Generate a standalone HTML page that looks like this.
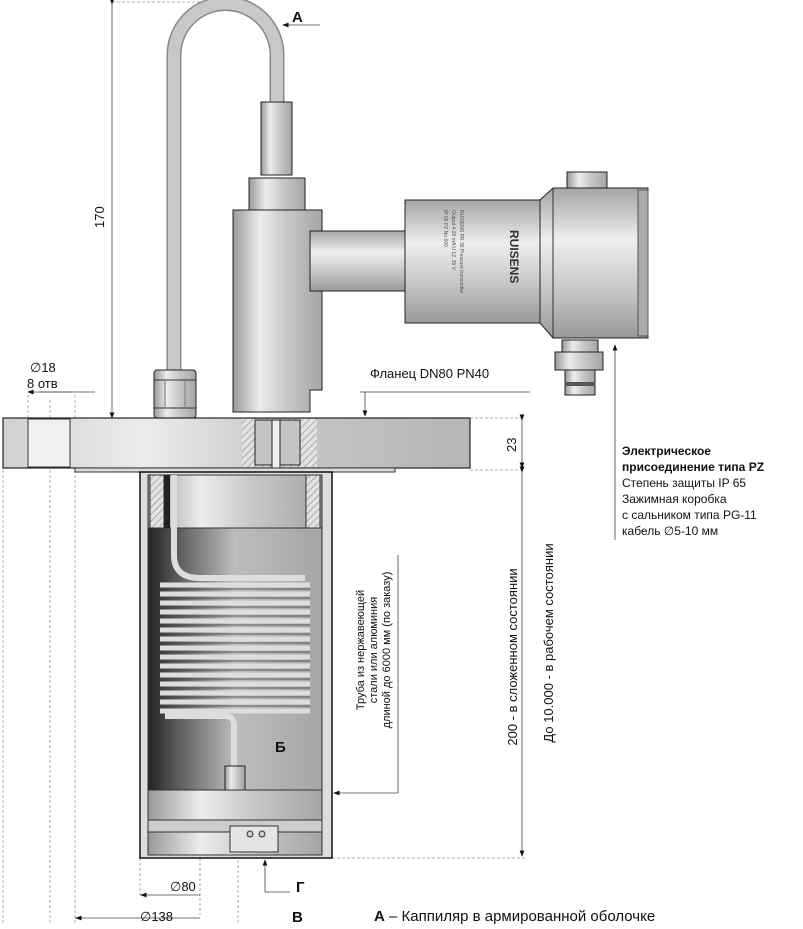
<!DOCTYPE html>
<html><head><meta charset="utf-8"><style>
html,body{margin:0;padding:0;background:#fff;}
svg{display:block;font-family:"Liberation Sans",sans-serif;}
</style></head><body>
<svg width="803" height="929" viewBox="0 0 803 929" xmlns="http://www.w3.org/2000/svg">
<defs>
<linearGradient id="cyl" x1="0" x2="1" y1="0" y2="0">
<stop offset="0" stop-color="#999"/><stop offset="0.3" stop-color="#ececec"/><stop offset="0.6" stop-color="#c8c8c8"/><stop offset="1" stop-color="#a5a5a5"/></linearGradient>
<linearGradient id="hcyl" x1="0" x2="0" y1="0" y2="1">
<stop offset="0" stop-color="#a5a5a5"/><stop offset="0.35" stop-color="#eeeeee"/><stop offset="0.7" stop-color="#c4c4c4"/><stop offset="1" stop-color="#999"/></linearGradient>
<linearGradient id="dark" x1="0" x2="1" y1="0" y2="0">
<stop offset="0" stop-color="#222"/><stop offset="0.15" stop-color="#555"/><stop offset="0.5" stop-color="#bdbdbd"/><stop offset="1" stop-color="#a5a5a5"/></linearGradient>
<linearGradient id="fl" x1="0" x2="1" y1="0" y2="0">
<stop offset="0" stop-color="#d0d0d0"/><stop offset="0.3" stop-color="#ececec"/><stop offset="0.6" stop-color="#c6c6c6"/><stop offset="1" stop-color="#b5b5b5"/></linearGradient>
<pattern id="hatch" width="5" height="5" patternUnits="userSpaceOnUse" patternTransform="rotate(45)">
<rect width="5" height="5" fill="#e2e2e2"/><line x1="0" y1="0" x2="0" y2="5" stroke="#999" stroke-width="1.5"/></pattern>
<marker id="ar" markerWidth="8" markerHeight="8" refX="7" refY="4" orient="auto"><path d="M0,1 L8,4 L0,7z" fill="#111"/></marker>
</defs>
<g stroke="#999" stroke-width="0.8" fill="none" stroke-dasharray="3,2">
<line x1="3" y1="470" x2="3" y2="925"/><line x1="50" y1="400" x2="50" y2="925"/><line x1="75" y1="395" x2="75" y2="925"/>
<line x1="28" y1="395" x2="28" y2="418"/>
<line x1="112" y1="2" x2="225" y2="2"/>
<line x1="332" y1="858" x2="525" y2="858"/>
<line x1="470" y1="418" x2="525" y2="418"/><line x1="470" y1="470" x2="525" y2="470"/>
<line x1="140" y1="858" x2="140" y2="895"/><line x1="200" y1="858" x2="200" y2="915"/><line x1="238" y1="860" x2="238" y2="925"/>
</g>
<g stroke="#444" stroke-width="0.8" fill="none">
<line x1="112" y1="4" x2="112" y2="418" marker-start="url(#ar)" marker-end="url(#ar)"/>
<line x1="522" y1="420" x2="522" y2="468" marker-start="url(#ar)" marker-end="url(#ar)"/>
<line x1="522" y1="472" x2="522" y2="856" marker-start="url(#ar)" marker-end="url(#ar)"/>
<line x1="320" y1="25" x2="283" y2="25" marker-end="url(#ar)"/>
<line x1="398" y1="555" x2="398" y2="793"/><line x1="398" y1="793" x2="334" y2="793" marker-end="url(#ar)"/>
<line x1="615" y1="540" x2="615" y2="345" marker-end="url(#ar)"/>
<line x1="360" y1="392" x2="530" y2="392"/><line x1="365" y1="392" x2="365" y2="416" marker-end="url(#ar)"/>
<line x1="140" y1="895" x2="200" y2="895"/><line x1="142" y1="895" x2="141" y2="895" marker-end="url(#ar)"/>
<line x1="75" y1="918" x2="200" y2="918"/><line x1="80" y1="918" x2="76" y2="918" marker-end="url(#ar)"/>
<line x1="95" y1="392" x2="28" y2="392" marker-end="url(#ar)"/><line x1="40" y1="392" x2="72" y2="392"/>
<line x1="265" y1="892" x2="290" y2="892"/><line x1="265" y1="892" x2="265" y2="860" marker-end="url(#ar)"/>
<line x1="260" y1="748" x2="245" y2="748"/>
</g>
<!-- capillary -->
<path d="M174,370 L174,55 A51,51 0 0 1 277,55 L277,102" stroke="#888" stroke-width="15" fill="none"/>
<path d="M174,370 L174,55 A51,51 0 0 1 277,55 L277,102" stroke="#c8c8c8" stroke-width="12" fill="none"/>
<!-- fittings -->
<rect x="261" y="102" width="31" height="73" fill="url(#cyl)" stroke="#222"/>
<rect x="249" y="178" width="56" height="32" fill="url(#cyl)" stroke="#222"/>
<path d="M233,210 H322 V390 H310 V412 H233 Z" fill="url(#cyl)" stroke="#222"/>
<rect x="310" y="231" width="96" height="60" fill="url(#hcyl)" stroke="#222"/>
<rect x="405" y="200" width="137" height="123" fill="url(#hcyl)" stroke="#222"/>
<g font-size="5" fill="#555" transform="rotate(90 460 260)"><text x="410" y="260">RUISENS  PR 36  Pressure transmitter</text><text x="410" y="268">Output 4-20 mA  U 12..36 V</text><text x="410" y="276">IP 65  PZ  No 000</text></g>
<text x="510" y="230" font-size="12" font-weight="bold" fill="#333" transform="rotate(90 510 230)">RUISENS</text>
<path d="M540,200 L553,188 H648 V338 H553 L540,323 Z" fill="url(#hcyl)" stroke="#222"/>
<line x1="553" y1="188" x2="553" y2="338" stroke="#333"/>
<rect x="638" y="190" width="10" height="146" fill="#aaa" stroke="#555"/>
<rect x="567" y="172" width="40" height="16" fill="url(#cyl)" stroke="#222"/>
<rect x="562" y="340" width="36" height="12" fill="url(#cyl)" stroke="#222"/>
<rect x="555" y="352" width="48" height="18" fill="url(#cyl)" stroke="#222"/>
<rect x="565" y="370" width="30" height="25" fill="url(#cyl)" stroke="#222"/>
<rect x="566" y="382" width="28" height="4" fill="#555"/>
<!-- hex nut -->
<rect x="154" y="370" width="42" height="48" rx="3" fill="url(#cyl)" stroke="#222"/>
<line x1="154" y1="380" x2="196" y2="380" stroke="#333"/><line x1="154" y1="408" x2="196" y2="408" stroke="#333"/>
<line x1="165" y1="380" x2="165" y2="408" stroke="#777"/><line x1="185" y1="380" x2="185" y2="408" stroke="#777"/>
<!-- flange -->
<rect x="3" y="418" width="467" height="50" fill="url(#fl)" stroke="#222" stroke-width="1.2"/>
<rect x="28" y="419" width="42" height="48" fill="#f0f0f0" stroke="#333"/>
<rect x="242" y="419" width="75" height="48" fill="url(#hatch)" stroke="none"/>
<rect x="255" y="420" width="45" height="45" fill="#c4c4c4" stroke="#222"/>
<rect x="272" y="420" width="8" height="50" fill="#eee" stroke="#222"/>
<rect x="75" y="468" width="320" height="4" fill="#ddd" stroke="#333"/>
<!-- body cylinder -->
<rect x="140" y="472" width="192" height="386" fill="#ddd" stroke="#111" stroke-width="1.5"/>
<rect x="148" y="475" width="174" height="380" fill="url(#cyl)" stroke="#333"/>
<rect x="148" y="528" width="174" height="262" fill="url(#dark)" stroke="#333"/>
<rect x="150" y="475" width="14" height="53" fill="url(#hatch)" stroke="#333"/>
<rect x="306" y="475" width="14" height="53" fill="url(#hatch)" stroke="#333"/>
<rect x="164" y="475" width="6" height="53" fill="#222"/>
<path d="M174,475 V555 Q174,578 200,578 H305" stroke="#ddd" stroke-width="6" fill="none"/>
<g stroke="#ddd" stroke-width="5">
<line x1="160" y1="585" x2="310" y2="585"/><line x1="160" y1="594" x2="310" y2="594"/><line x1="160" y1="603" x2="310" y2="603"/><line x1="160" y1="612" x2="310" y2="612"/><line x1="160" y1="621" x2="310" y2="621"/><line x1="160" y1="630" x2="310" y2="630"/><line x1="160" y1="639" x2="310" y2="639"/><line x1="160" y1="648" x2="310" y2="648"/><line x1="160" y1="657" x2="310" y2="657"/><line x1="160" y1="666" x2="310" y2="666"/><line x1="160" y1="675" x2="310" y2="675"/><line x1="160" y1="684" x2="310" y2="684"/><line x1="160" y1="693" x2="310" y2="693"/><line x1="160" y1="702" x2="310" y2="702"/><line x1="160" y1="711" x2="310" y2="711"/>
</g>
<g stroke="#444" stroke-width="0.8">
<line x1="160" y1="589" x2="310" y2="589"/><line x1="160" y1="598" x2="310" y2="598"/><line x1="160" y1="607" x2="310" y2="607"/><line x1="160" y1="616" x2="310" y2="616"/><line x1="160" y1="625" x2="310" y2="625"/><line x1="160" y1="634" x2="310" y2="634"/><line x1="160" y1="643" x2="310" y2="643"/><line x1="160" y1="652" x2="310" y2="652"/><line x1="160" y1="661" x2="310" y2="661"/><line x1="160" y1="670" x2="310" y2="670"/><line x1="160" y1="679" x2="310" y2="679"/><line x1="160" y1="688" x2="310" y2="688"/><line x1="160" y1="697" x2="310" y2="697"/><line x1="160" y1="706" x2="310" y2="706"/>
</g>
<path d="M165,716 H225 Q234,716 234,726 V768" stroke="#ddd" stroke-width="6" fill="none"/>
<rect x="225" y="766" width="20" height="24" fill="url(#cyl)" stroke="#222"/>
<rect x="148" y="790" width="174" height="30" fill="url(#cyl)" stroke="#333"/>
<rect x="148" y="820" width="174" height="12" fill="#ccc" stroke="#333"/>
<rect x="148" y="832" width="174" height="23" fill="url(#cyl)" stroke="#333"/>
<rect x="230" y="826" width="48" height="26" fill="#e5e5e5" stroke="#333"/>
<circle cx="250" cy="834" r="3" fill="#ccc" stroke="#333"/><circle cx="262" cy="834" r="3" fill="#ccc" stroke="#333"/>
<!-- text -->
<g fill="#111">
<text x="292" y="22" font-size="15" font-weight="bold">А</text>
<text x="104" y="228" font-size="13" transform="rotate(-90 104 228)">170</text>
<text x="30" y="372" font-size="13">∅18</text>
<text x="27" y="388" font-size="13">8 отв</text>
<text x="370" y="378" font-size="13">Фланец DN80 PN40</text>
<text x="516" y="452" font-size="13" transform="rotate(-90 516 452)">23</text>
<text x="622" y="455" font-size="12" font-weight="bold">Электрическое</text>
<text x="622" y="471" font-size="12" font-weight="bold">присоединение типа PZ</text>
<text x="622" y="487" font-size="12">Степень защиты IP 65</text>
<text x="622" y="503" font-size="12">Зажимная коробка</text>
<text x="622" y="519" font-size="12">с сальником типа PG-11</text>
<text x="622" y="535" font-size="12">кабель ∅5-10 мм</text>
<text x="275" y="752" font-size="15" font-weight="bold">Б</text>
<g font-size="11" text-anchor="middle">
<text transform="translate(364 650) rotate(-90)">Труба из нержавеющей</text>
<text transform="translate(377 650) rotate(-90)">стали или алюминия</text>
<text transform="translate(390 650) rotate(-90)">длиной до 6000 мм (по заказу)</text>
</g>
<text transform="translate(517 657) rotate(-90)" font-size="13" text-anchor="middle">200 - в сложенном состоянии</text>
<text transform="translate(553 643) rotate(-90)" font-size="13" text-anchor="middle">До 10.000 - в рабочем состоянии</text>
<text x="170" y="891" font-size="13">∅80</text>
<text x="296" y="892" font-size="15" font-weight="bold">Г</text>
<text x="140" y="921" font-size="13">∅138</text>
<text x="292" y="922" font-size="15" font-weight="bold">В</text>
<text x="374" y="921" font-size="15"><tspan font-weight="bold">А</tspan> – Каппиляр в армированной оболочке</text>
</g>
</svg>
</body></html>
